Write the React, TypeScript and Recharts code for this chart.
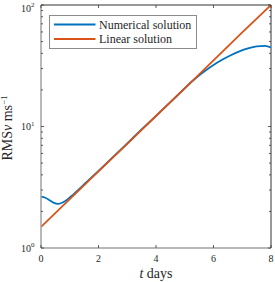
import React from 'react';
import { LineChart, Line, XAxis, YAxis, Legend, ReferenceLine } from 'recharts';

const tNumerical = [0, 0.15, 0.3, 0.45, 0.6, 0.75, 0.9, 1.05, 1.2, 1.4, 1.6, 2.0, 2.5, 3.0, 3.5, 4.0, 4.5, 5.0, 5.1, 5.4, 5.7, 6.0, 6.3, 6.6, 6.9, 7.2, 7.5, 7.8, 8.0];
const vNumerical = [2.65, 2.59, 2.47, 2.35, 2.31, 2.366, 2.49, 2.666, 2.87, 3.175, 3.517, 4.32, 5.6, 7.27, 9.46, 12.25, 15.9, 20.65, 21.76, 25.2, 28.6, 32.1, 35.4, 38.6, 41.5, 43.9, 45.6, 46.1, 44.7];

const tLinear = [0, 1, 2, 3, 4, 5, 6, 7, 8];
const vLinear = [1.49, 2.53, 4.27, 7.2, 12.2, 20.6, 35.0, 59.5, 100];

const xTicks = [0, 2, 4, 6, 8];
const yMajorTicks = [1, 10, 100];
const yMinorTicks = [2, 3, 4, 5, 6, 7, 8, 9, 20, 30, 40, 50, 60, 70, 80, 90];

const seriesNames = ['Numerical solution', 'Linear solution'];
const BLUE = '#0072BD';
const RED = '#D95319';

const numericalData = tNumerical.map((t, i) => ({ t, v: vNumerical[i] }));
const linearData = tLinear.map((t, i) => ({ t, v: vLinear[i] }));
const yTicks = [...yMajorTicks, ...yMinorTicks].sort((a, b) => a - b);

const PLOT_L = 41;
const PLOT_R = 271;
const PLOT_T = 5;
const PLOT_B = 248;
const FONT = '"Liberation Serif", "Times New Roman", serif';
const TEXT = '#262626';
const TICK = '#333333';

function YTick(props: any) {
  const { y, payload } = props;
  const v = payload.value;
  const major = yMajorTicks.includes(v);
  const len = major ? 3 : 2;
  const exp = Math.round(Math.log10(v));
  const by = Math.max(y + 3.5, 11.5);
  return (
    <g>
      <line x1={PLOT_L} x2={PLOT_L + len} y1={y} y2={y} stroke={TICK} strokeWidth={0.8} />
      <line x1={PLOT_R} x2={PLOT_R - len} y1={y} y2={y} stroke={TICK} strokeWidth={0.8} />
      {major && (
        <text x={34.5} y={by} textAnchor="end" fontSize={10} fill={TEXT} fontFamily={FONT}>
          10
          <tspan dy={-4.5} fontSize={7}>{exp}</tspan>
        </text>
      )}
    </g>
  );
}

function XTick(props: any) {
  const { x, payload } = props;
  return (
    <g>
      <line x1={x} x2={x} y1={PLOT_B} y2={PLOT_B - 3} stroke={TICK} strokeWidth={0.8} />
      <line x1={x} x2={x} y1={PLOT_T} y2={PLOT_T + 3} stroke={TICK} strokeWidth={0.8} />
      <text x={x} y={262} textAnchor="middle" fontSize={10} fill={TEXT} fontFamily={FONT}>
        {payload.value}
      </text>
    </g>
  );
}

function XLabel() {
  return (
    <text x={(PLOT_L + PLOT_R) / 2} y={278} textAnchor="middle" fontSize={14} fill={TEXT} fontFamily={FONT}>
      <tspan fontStyle="italic">t</tspan> days
    </text>
  );
}

function YLabel() {
  const cx = 11.5;
  const cy = 128;
  return (
    <text
      x={cx}
      y={cy}
      transform={`rotate(-90 ${cx} ${cy})`}
      textAnchor="middle"
      fontSize={14}
      fill={TEXT}
      fontFamily={FONT}
    >
      RMS<tspan fontStyle="italic">v</tspan> ms
      <tspan dy={-4.5} fontSize={9}>−1</tspan>
    </text>
  );
}

function LegendBox(props: any) {
  const payload = [...(props.payload || [])].sort(
    (a: any, b: any) => seriesNames.indexOf(a.value) - seriesNames.indexOf(b.value)
  );
  const w = 148;
  const h = 34;
  return (
    <svg width={w} height={h} style={{ display: 'block' }}>
      <rect x={0.5} y={0.5} width={w - 1} height={h - 1} fill="#ffffff" stroke="#8c8c8c" strokeWidth={1} />
      {payload.map((p: any, i: number) => {
        const cy = 9.5 + i * 14.5;
        return (
          <g key={i}>
            <line x1={5} x2={46.5} y1={cy} y2={cy} stroke={p.color} strokeWidth={1.8} />
            <text x={50} y={cy + 4} fontSize={12} fill={TEXT} fontFamily={FONT}>
              {p.value}
            </text>
          </g>
        );
      })}
    </svg>
  );
}

export default function App() {
  return (
    <div style={{ position: 'absolute', left: 0, top: 0, width: 275, height: 282, background: '#ffffff' }}>
      <LineChart width={275} height={282} margin={{ top: PLOT_T, right: 275 - PLOT_R, left: 0, bottom: 0 }}>
        <XAxis
          dataKey="t"
          type="number"
          domain={[0, 8]}
          ticks={xTicks}
          interval={0}
          height={282 - PLOT_B}
          tickLine={false}
          axisLine={{ stroke: '#a0a0a0', strokeWidth: 1.5 }}
          tick={<XTick />}
          label={<XLabel />}
          allowDataOverflow
        />
        <YAxis
          dataKey="v"
          scale="log"
          domain={[1, 100]}
          ticks={yTicks}
          interval={0}
          width={PLOT_L}
          tickLine={false}
          axisLine={{ stroke: '#a0a0a0', strokeWidth: 1.5 }}
          tick={<YTick />}
          label={<YLabel />}
          allowDataOverflow
        />
        <ReferenceLine y={100} stroke={TICK} strokeWidth={1} />
        <ReferenceLine x={8} stroke={TICK} strokeWidth={1} />
        <Line
          data={numericalData}
          dataKey="v"
          name={seriesNames[0]}
          type="monotone"
          stroke={BLUE}
          strokeWidth={1.8}
          dot={false}
          isAnimationActive={false}
        />
        <Line
          data={linearData}
          dataKey="v"
          name={seriesNames[1]}
          type="linear"
          stroke={RED}
          strokeWidth={1.8}
          dot={false}
          isAnimationActive={false}
        />
        <Legend
          layout="vertical"
          align="center"
          verticalAlign="middle"
          itemSorter={null as any}
          content={<LegendBox />}
          wrapperStyle={{ position: 'absolute', left: 49, top: 15, width: 148, height: 34, margin: 0 }}
        />
      </LineChart>
    </div>
  );
}
